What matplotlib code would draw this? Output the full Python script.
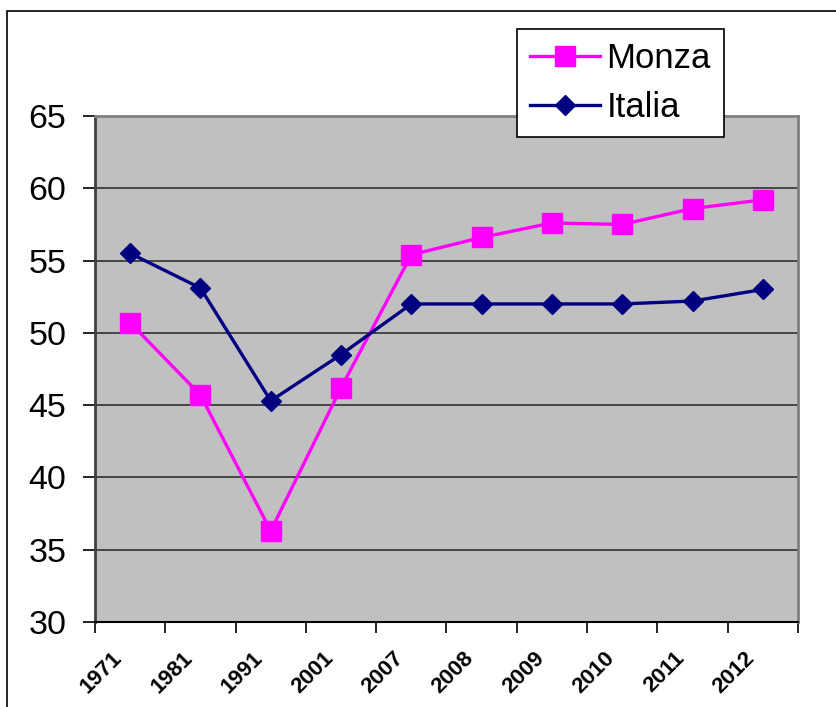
import matplotlib.pyplot as plt
import matplotlib.transforms as mtransforms
from matplotlib.patches import Rectangle

years = ['1971', '1981', '1991', '2001', '2007', '2008', '2009', '2010', '2011', '2012']
monza = [50.7, 45.7, 36.3, 46.2, 55.4, 56.6, 57.6, 57.5, 58.6, 59.2]
italia = [55.5, 53.1, 45.3, 48.5, 52.0, 52.0, 52.0, 52.0, 52.2, 53.0]

plt.rcParams['font.family'] = ['Liberation Sans', 'DejaVu Sans']

fig = plt.figure(figsize=(8.37, 7.07), dpi=100)
ax = fig.add_axes([95 / 837, 1 - 622 / 707, 703 / 837, 506 / 707])
ax.set_facecolor('#c0c0c0')

# outer chart border (only top and left visible)
fig.patches.append(Rectangle((7 / 837, -0.1), 1.2, 1 - 11 / 707 + 0.1, transform=fig.transFigure,
                             fill=False, edgecolor='black', linewidth=1.2, zorder=0))

x = list(range(len(years)))
ax.plot(x, monza, color='#ff00ff', linewidth=2.4, marker='s', markersize=15,
        markeredgecolor='#ff00ff', label='Monza', zorder=3)
ax.plot(x, italia, color='#000080', linewidth=2.4, marker='D', markersize=10,
        markeredgecolor='#000080', label='Italia', zorder=4)

ax.set_xlim(-0.5, len(years) - 0.5)
ax.set_ylim(30, 65)
ax.set_yticks(range(30, 66, 5))
ax.yaxis.grid(True, color='#303030', linewidth=1.2)
ax.set_axisbelow(True)

ax.set_xticks(x)
ax.set_xticklabels(years, rotation=45, ha='right', va='center', rotation_mode='anchor',
                   fontsize=16, fontweight='bold')
ax.set_xticks([i - 0.5 for i in range(len(years) + 1)], minor=True)
ax.tick_params(axis='x', which='major', length=0, pad=0)
ax.tick_params(axis='x', which='minor', length=8, width=1.2, direction='out')
ax.tick_params(axis='y', length=8.5, width=1.2, direction='out', labelsize=24.5, pad=12)
offset = mtransforms.ScaledTranslation(-11 / 100, -33 / 100, fig.dpi_scale_trans)
for lbl in ax.get_xticklabels():
    lbl.set_transform(lbl.get_transform() + offset)

for side in ['top', 'right']:
    ax.spines[side].set_color('#808080')
    ax.spines[side].set_linewidth(2)
ax.spines['left'].set_color('#404040')
ax.spines['left'].set_linewidth(2)
ax.spines['bottom'].set_color('black')
ax.spines['bottom'].set_linewidth(1.5)

leg = fig.legend(loc='upper left', bbox_to_anchor=(517 / 837, 1 - 29 / 707), borderaxespad=0,
                 fontsize=25, fancybox=False, framealpha=1, edgecolor='black',
                 handlelength=2.0, handletextpad=0.2, labelspacing=0.45, borderpad=0.38)
leg.get_frame().set_linewidth(1.2)
leg.set_zorder(10)

fig.savefig('out.png', dpi=100)
